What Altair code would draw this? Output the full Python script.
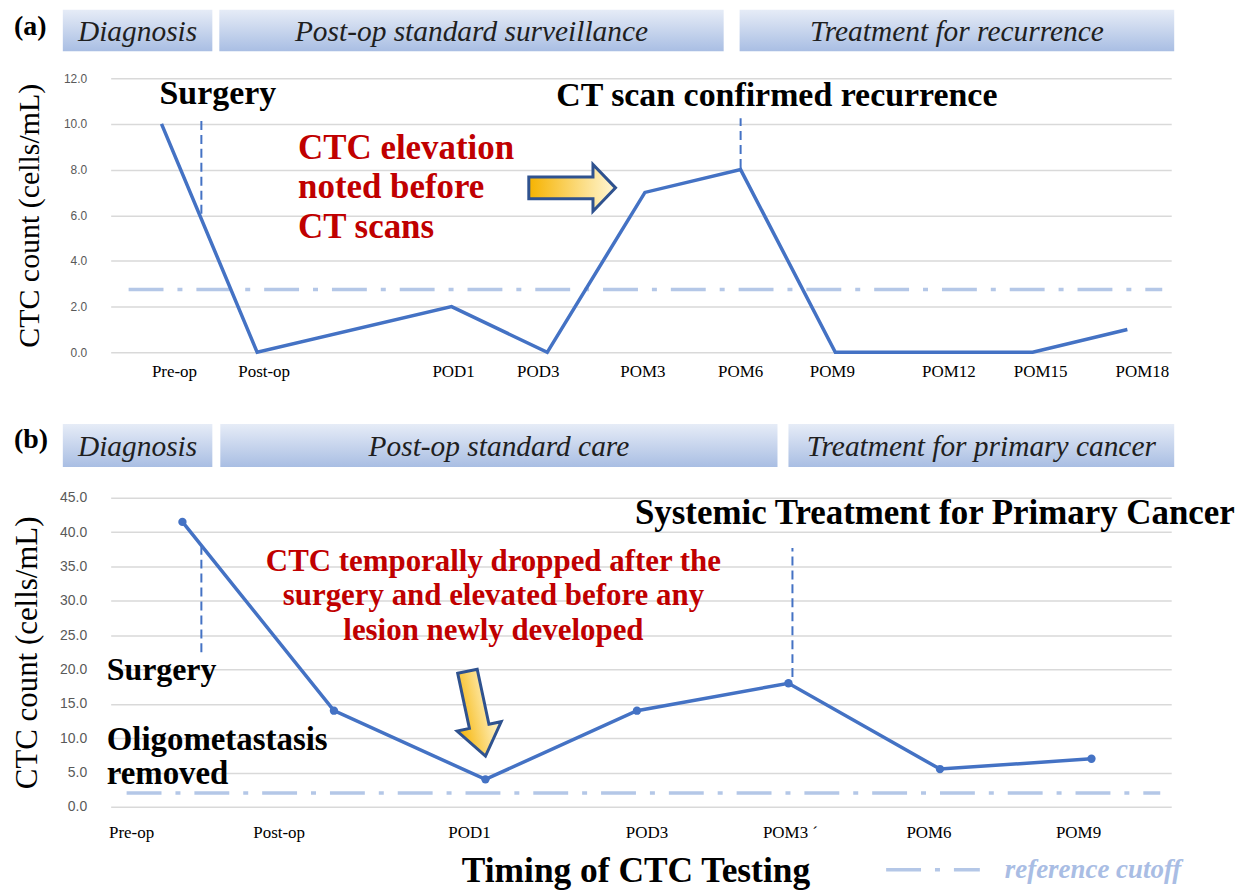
import altair as alt
import pandas as pd

# ---------------- data: panel (a) ----------------
a_tests = ["Pre-op", "Post-op", "POD1", "POD3", "POM3", "POM6", "POM9", "POM12", "POM15", "POM18"]
a_ctc = [10.0, 0.0, 2.0, 0.0, 7.0, 8.0, 0.0, 0.0, 0.0, 1.0]
a_time_pos = [51, 147, 342, 438, 536, 632, 727, 826, 925, 1020]      # timeline position of each test
a_label_pos = [64, 154, 344, 429, 534, 632, 724, 841, 933, 1035]     # where the test name is printed
a_cutoff = 2.75
a_phases = ["Diagnosis", "Post-op standard surveillance", "Treatment for recurrence"]
a_phase_start = [-48, 109, 631]
a_phase_end = [102, 615, 1067]

# ---------------- data: panel (b) ----------------
b_tests = ["Pre-op", "Post-op", "POD1", "POD3", "POM3 \u00b4", "POM6", "POM9"]
b_ctc = [41.5, 14.0, 4.0, 14.0, 18.0, 5.5, 7.0]
b_time_pos = [72, 224, 376, 528, 680, 832, 984]
b_label_pos = [21, 169, 360, 538, 682, 821, 971]
b_cutoff = 2.0
b_phases = ["Diagnosis", "Post-op standard care", "Treatment for primary cancer"]
b_phase_start = [-48, 110, 680]
b_phase_end = [102, 669, 1067]

SERIF = "Liberation Serif"
SANS = "Liberation Sans"
BLUE = "#4472c4"
CUT = "#b4c7e7"
RED = "#c00000"
NAVY = "#2f528f"
W = 1064

HDR_GRAD = alt.LinearGradient(
    gradient="linear",
    stops=[alt.GradientStop(offset=0, color="#e6ecf7"), alt.GradientStop(offset=1, color="#a9bee3")],
    x1=0, x2=0, y1=0, y2=1)
ARROW_GRAD = alt.LinearGradient(
    gradient="linear",
    stops=[alt.GradientStop(offset=0, color="#f6b300"), alt.GradientStop(offset=1, color="#fff7d6")],
    x1=0, x2=1, y1=0, y2=0)

RIGHT_ARROW = "M -1 -0.25 L 0.48 -0.25 L 0.48 -0.54 L 1 0 L 0.48 0.54 L 0.48 0.25 L -1 0.25 Z"
DOWN_ARROW = "M -0.23 -1 L 0.23 -1 L 0.23 0.3 L 0.52 0.3 L 0 1 L -0.52 0.3 L -0.23 0.3 Z"


def make_panel(P):
    xs = alt.Scale(domain=[0, W], nice=False, zero=False)
    ys = alt.Scale(domain=P["ydomain"], nice=False, zero=False)
    yaxis = alt.Axis(values=P["yticks"], format=".1f", grid=True, gridColor="#d9d9d9", gridWidth=1.5,
                     domain=False, ticks=False, labelFont=SANS, labelFontSize=P["ylabsize"],
                     labelColor="#595959", labelPadding=24, title="CTC count (cells/mL)",
                     titleFont=SERIF, titleFontSize=P["ytitlesize"], titleFontWeight="normal",
                     titleColor="#000000", titleX=P["ytitlex"])

    def X(f="x"):
        return alt.X(f"{f}:Q", scale=xs, axis=None)

    def Y(f="y"):
        return alt.Y(f"{f}:Q", scale=ys, axis=yaxis)

    layers = []
    # phase header boxes
    hdr = pd.DataFrame({"x": P["phase_start"], "x2": P["phase_end"], "t": P["phases"]})
    hdr["y"] = P["hy"]
    hdr["y2"] = P["hy2"]
    hdr["ty"] = P["hty"]
    hdr["xc"] = (hdr["x"] + hdr["x2"]) / 2
    layers.append(alt.Chart(hdr).mark_rect(fill=HDR_GRAD).encode(
        x=X(), x2=alt.X2("x2"), y=Y(), y2=alt.Y2("y2")))
    layers.append(alt.Chart(hdr).mark_text(font=SERIF, fontStyle="italic", fontSize=29.5, color="#1f1f1f",
                                           align="center", baseline="alphabetic").encode(
        x=X("xc"), y=Y("ty"), text="t:N"))
    # panel tag
    tag = pd.DataFrame({"x": [-97], "y": [P["tag_y"]], "t": [P["tag"]]})
    layers.append(alt.Chart(tag).mark_text(font=SERIF, fontWeight="bold", fontSize=28, color="#000000",
                                           align="left", baseline="alphabetic").encode(
        x=X(), y=Y(), text="t:N"))
    # reference cutoff
    cut = pd.DataFrame({"x": [P["cut_x"][0]], "x2": [P["cut_x"][1]], "y": [P["cutoff"]]})
    layers.append(alt.Chart(cut).mark_rule(color=CUT, strokeWidth=3.5, strokeDash=[35, 14, 5, 14]).encode(
        x=X(), x2=alt.X2("x2"), y=Y()))
    # event dashed verticals
    ev = pd.DataFrame({"x": P["ev_x"], "y": P["ev_y"], "y2": P["ev_y2"]})
    layers.append(alt.Chart(ev).mark_rule(color=BLUE, strokeWidth=2, strokeDash=[9, 5]).encode(
        x=X(), y=Y(), y2=alt.Y2("y2")))
    # CTC series
    ser = pd.DataFrame({"x": P["time_pos"], "y": P["ctc"], "test": P["tests"]})
    layers.append(alt.Chart(ser).mark_line(color=BLUE, strokeWidth=3.5).encode(x=X(), y=Y()))
    if P["points"]:
        layers.append(alt.Chart(ser).mark_circle(color=BLUE, size=70, opacity=1).encode(x=X(), y=Y()))
    # test names under the axis
    lab = pd.DataFrame({"x": P["label_pos"], "t": P["tests"]})
    lab["y"] = P["lab_y"]
    layers.append(alt.Chart(lab).mark_text(font=SERIF, fontSize=17, color="#000000", align="center",
                                           baseline="alphabetic").encode(x=X(), y=Y(), text="t:N"))
    # black annotations
    blk = pd.DataFrame({"x": P["blk_x"], "y": P["blk_y"], "t": P["blk_t"], "fs": P["blk_size"]})
    layers.append(alt.Chart(blk).mark_text(font=SERIF, fontWeight="bold",
                                           color="#000000", align="left", baseline="alphabetic").encode(
        x=X(), y=Y(), text="t:N", size=alt.Size("fs:Q", scale=None, legend=None)))
    # red annotation
    red = pd.DataFrame({"x": P["red_x"], "y": P["red_y"], "t": P["red_t"]})
    layers.append(alt.Chart(red).mark_text(font=SERIF, fontWeight="bold", fontSize=P["red_size"],
                                           color=RED, align=P["red_align"], baseline="alphabetic").encode(
        x=X(), y=Y(), text="t:N"))
    # arrow
    arr = pd.DataFrame({"x": [P["arrow"][0]], "y": [P["arrow"][1]]})
    layers.append(alt.Chart(arr).mark_point(shape=P["arrow_shape"], filled=True, fill=ARROW_GRAD,
                                            stroke=NAVY, strokeWidth=3, opacity=1, size=7569,
                                            angle=P["arrow_angle"]).encode(x=X(), y=Y()))
    layers.extend(P.get("extra", lambda X, Y: [])(X, Y))
    return alt.layer(*layers).properties(width=W, height=P["height"])


def bottom_extras(X, Y):
    out = []
    ttl = pd.DataFrame({"x": [527], "y": [-10.9], "t": ["Timing of CTC Testing"]})
    out.append(alt.Chart(ttl).mark_text(font=SERIF, fontWeight="bold", fontSize=35.5, color="#000000",
                                        align="center", baseline="alphabetic").encode(
        x=X(), y=Y(), text="t:N"))
    leg = pd.DataFrame({"x": [778], "x2": [872], "y": [-9.15]})
    out.append(alt.Chart(leg).mark_rule(color=CUT, strokeWidth=3.5, strokeDash=[35, 14, 5, 14]).encode(
        x=X(), x2=alt.X2("x2"), y=Y()))
    legt = pd.DataFrame({"x": [897], "y": [-10.3], "t": ["reference cutoff"]})
    out.append(alt.Chart(legt).mark_text(font=SERIF, fontWeight="bold", fontStyle="italic", fontSize=27,
                                         color="#a9bde4", align="left", baseline="alphabetic").encode(
        x=X(), y=Y(), text="t:N"))
    return out


PA = dict(
    ydomain=[0, 12], yticks=[0, 2, 4, 6, 8, 10, 12], ylabsize=12, ytitlesize=30, ytitlex=-66, height=275,
    phases=a_phases, phase_start=a_phase_start, phase_end=a_phase_end, hy=15.0, hy2=13.18, hty=13.61,
    tag="(a)", tag_y=13.9, cutoff=a_cutoff, cut_x=[18, 1055],
    ev_x=[91, 632], ev_y=[6.07, 8.07], ev_y2=[10.30, 10.25],
    tests=a_tests, ctc=a_ctc, time_pos=a_time_pos, label_pos=a_label_pos, lab_y=-1.09, points=False,
    blk_x=[49, 447], blk_y=[10.87, 10.78], blk_t=["Surgery", "CT scan confirmed recurrence"],
    blk_size=[34, 34],
    red_x=[188, 188, 188], red_y=[8.47, 6.76, 5.02], red_t=["CTC elevation", "noted before", "CT scans"],
    red_size=35, red_align="left",
    arrow=[463, 7.2], arrow_shape=RIGHT_ARROW, arrow_angle=0,
)

PB = dict(
    ydomain=[0, 45], yticks=[0, 5, 10, 15, 20, 25, 30, 35, 40, 45], ylabsize=14, ytitlesize=31, ytitlex=-67,
    height=310,
    phases=b_phases, phase_start=b_phase_start, phase_end=b_phase_end, hy=55.74, hy2=49.5, hty=51.1,
    tag="(b)", tag_y=52.26, cutoff=b_cutoff, cut_x=[16, 1053],
    ev_x=[91, 684], ev_y=[22.5, 18.9], ev_y2=[38.76, 37.7],
    tests=b_tests, ctc=b_ctc, time_pos=b_time_pos, label_pos=b_label_pos, lab_y=-4.5, points=True,
    blk_x=[526, -4, -4, -4], blk_y=[41.2, 18.4, 8.27, 3.34],
    blk_t=["Systemic Treatment for Primary Cancer", "Surgery", "Oligometastasis", "removed"],
    blk_size=[35, 32, 33, 33],
    red_x=[384, 384, 384], red_y=[34.4, 29.35, 24.24],
    red_t=["CTC temporally dropped after the", "surgery and elevated before any", "lesion newly developed"],
    red_size=31, red_align="center",
    arrow=[367, 13.57], arrow_shape=DOWN_ARROW, arrow_angle=348,
    extra=bottom_extras,
)

chart = alt.vconcat(make_panel(PA), make_panel(PB), spacing=44).properties(
    padding={"left": 3, "top": 0, "right": 0, "bottom": 0}
).configure_view(stroke=None)

chart.save("out.html", embed_options={"renderer": "svg", "actions": False})
